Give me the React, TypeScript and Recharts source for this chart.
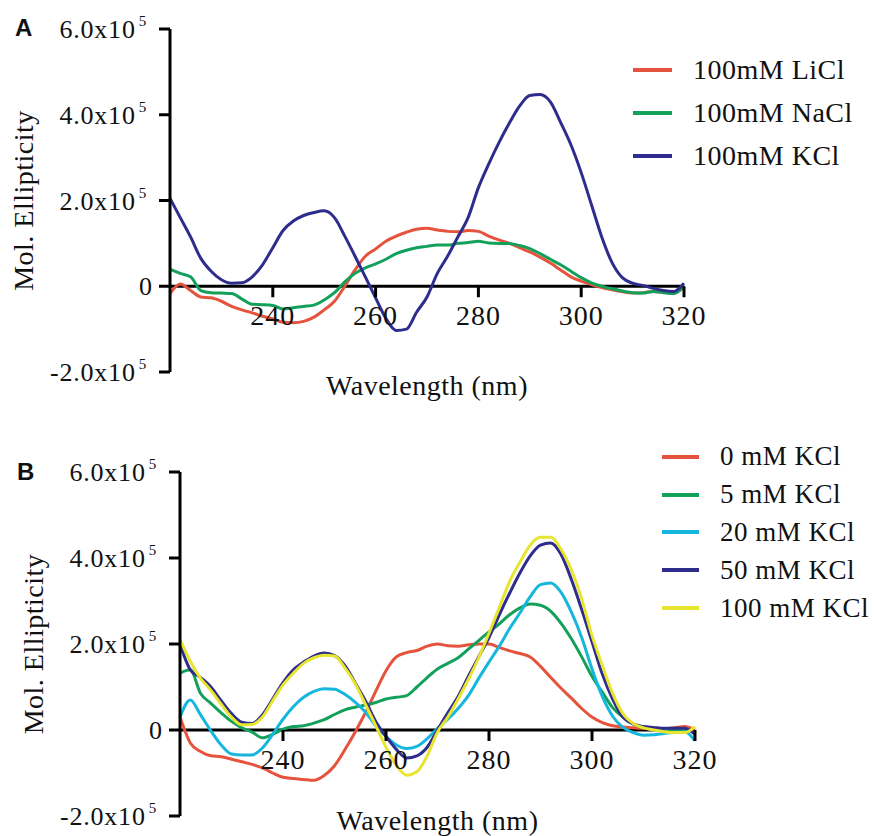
import React from "react";
import { LineChart, Line, XAxis, YAxis, ReferenceLine, Legend } from "recharts";

// wavelength grid (nm), shared by every trace
const wavelengths = [
  220, 222, 224, 226, 228, 230, 232, 234, 236, 238, 240, 242, 244, 246, 248, 250, 252,
  254, 256, 258, 260, 262, 264, 266, 268, 270, 272, 274, 276, 278, 280, 282, 284, 286,
  288, 290, 292, 294, 296, 298, 300, 302, 304, 306, 308, 310, 312, 314, 316, 318, 320,
];

// panel A: salt type (x10^5)
const liCl = [
  -0.17, 0.05, -0.1, -0.25, -0.27, -0.35, -0.47, -0.55, -0.62, -0.7, -0.76, -0.84, -0.85,
  -0.82, -0.72, -0.55, -0.35, 0.0, 0.38, 0.7, 0.87, 1.05, 1.17, 1.26, 1.33, 1.35, 1.31,
  1.28, 1.27, 1.3, 1.28, 1.17, 1.08, 1.0, 0.9, 0.8, 0.68, 0.54, 0.38, 0.22, 0.12, 0.04,
  -0.03, -0.08, -0.13, -0.16, -0.15, -0.12, -0.14, -0.16, -0.02,
];
const naCl = [
  0.4, 0.3, 0.22, -0.1, -0.15, -0.16, -0.17, -0.3, -0.42, -0.43, -0.45, -0.53, -0.5,
  -0.47, -0.44, -0.32, -0.15, 0.1, 0.3, 0.43, 0.52, 0.63, 0.76, 0.84, 0.9, 0.93, 0.96,
  0.96, 1.0, 1.02, 1.05, 1.01, 1.0, 1.0, 0.95, 0.88, 0.76, 0.63, 0.5, 0.35, 0.2, 0.08,
  0.0, -0.06, -0.11, -0.15, -0.16, -0.12, -0.15, -0.17, 0.0,
];
const kCl = [
  2.05, 1.6, 1.15, 0.65, 0.35, 0.15, 0.07, 0.08, 0.22, 0.5, 0.9, 1.3, 1.52, 1.65, 1.72,
  1.76, 1.6, 1.17, 0.7, 0.22, -0.27, -0.75, -1.03, -1.0, -0.6, -0.25, 0.3, 0.7, 1.15,
  1.6, 2.3, 2.85, 3.35, 3.8, 4.2, 4.45, 4.47, 4.3, 3.82, 3.3, 2.65, 1.9, 1.15, 0.55,
  0.2, 0.07, 0.02, -0.05, -0.1, -0.12, 0.07,
];

// panel B: KCl titration (x10^5)
const k0 = [
  0.3, -0.3, -0.5, -0.6, -0.62, -0.68, -0.74, -0.8, -0.88, -1.0, -1.1, -1.13, -1.15,
  -1.17, -1.06, -0.83, -0.46, -0.05, 0.4, 0.9, 1.38, 1.7, 1.8, 1.85, 1.95, 2.0, 1.96,
  1.95, 1.98, 2.0, 2.0, 1.92, 1.84, 1.78, 1.7, 1.48, 1.22, 0.97, 0.74, 0.5, 0.3, 0.17,
  0.1, 0.07, 0.05, 0.04, 0.03, 0.03, 0.05, 0.08, 0.0,
];
const k5 = [
  1.32, 1.4, 0.85, 0.62, 0.4, 0.2, 0.05, -0.05, -0.18, -0.1, 0.02, 0.08, 0.1, 0.16,
  0.24, 0.36, 0.47, 0.53, 0.58, 0.64, 0.72, 0.76, 0.8, 1.0, 1.22, 1.42, 1.55, 1.68,
  1.88, 2.08, 2.28, 2.47, 2.68, 2.84, 2.93, 2.9, 2.76, 2.48, 2.12, 1.7, 1.25, 0.88,
  0.52, 0.3, 0.14, 0.05, 0.01, 0.0, -0.01, 0.0, -0.04,
];
const k20 = [
  0.3, 0.7, 0.35, -0.02, -0.35, -0.56, -0.58, -0.58, -0.42, -0.1, 0.25, 0.54, 0.76,
  0.9, 0.96, 0.95, 0.83, 0.65, 0.42, 0.1, -0.15, -0.35, -0.43, -0.38, -0.2, 0.04, 0.25,
  0.5, 0.8, 1.2, 1.58, 1.95, 2.36, 2.72, 3.1, 3.38, 3.42, 3.2, 2.74, 2.15, 1.42, 0.78,
  0.32, 0.06, -0.06, -0.12, -0.11, -0.08, -0.06, -0.04, -0.25,
];
const k50 = [
  2.0, 1.4, 1.22, 1.0, 0.68, 0.38, 0.18, 0.15, 0.35, 0.72, 1.1, 1.4, 1.58, 1.72, 1.79,
  1.73, 1.5, 1.1, 0.68, 0.2, -0.15, -0.45, -0.65, -0.6, -0.4, 0.0, 0.4, 0.78, 1.25,
  1.7, 2.15, 2.68, 3.18, 3.65, 4.05, 4.3, 4.35, 4.08, 3.5, 2.8, 2.05, 1.3, 0.72, 0.3,
  0.14, 0.08, 0.06, 0.04, 0.04, 0.04, -0.1,
];
const k100 = [
  2.1, 1.6, 1.2, 0.92, 0.6, 0.3, 0.12, 0.13, 0.3, 0.68, 1.05, 1.32, 1.55, 1.68, 1.74,
  1.72, 1.45, 1.08, 0.6, 0.1, -0.4, -0.82, -1.05, -0.97, -0.6, -0.05, 0.3, 0.72, 1.18,
  1.68, 2.25, 2.85, 3.45, 3.9, 4.3, 4.48, 4.48, 4.2, 3.72, 3.05, 2.2, 1.5, 0.85, 0.38,
  0.15, 0.05, 0.0, -0.04, -0.06, -0.06, 0.08,
];

const xTicks = [240, 260, 280, 300, 320];
const yTicks = [-2, 0, 2, 4, 6];
const Y_MIN = -2;
const Y_MAX = 6;

const panelASeries = [
  { key: "li", name: "100mM LiCl", values: liCl, color: "#E5533D" },
  { key: "na", name: "100mM NaCl", values: naCl, color: "#12A05A" },
  { key: "k", name: "100mM KCl", values: kCl, color: "#2E2C8C" },
];
const panelBSeries = [
  { key: "k0", name: "0 mM KCl", values: k0, color: "#E5533D" },
  { key: "k5", name: "5 mM KCl", values: k5, color: "#12A05A" },
  { key: "k20", name: "20 mM KCl", values: k20, color: "#17B6DD" },
  { key: "k50", name: "50 mM KCl", values: k50, color: "#2E2C8C" },
  { key: "k100", name: "100 mM KCl", values: k100, color: "#E7E52F" },
];

const SERIF = '"Liberation Serif", "Times New Roman", serif';
const INK = "#111";

type Series = { key: string; name: string; values: number[]; color: string };

function toRows(series: Series[]) {
  return wavelengths.map((w, i) => {
    const row: Record<string, number> = { w };
    series.forEach((s) => (row[s.key] = s.values[i]));
    return row;
  });
}

function YTick({ x, y, payload }: any) {
  const v = payload.value as number;
  if (v === 0) {
    return (
      <text x={x + 5} y={y} dy={9} textAnchor="end" fontFamily={SERIF} fontSize={26} fill={INK}>
        0
      </text>
    );
  }
  return (
    <text x={x} y={y} dy={9} textAnchor="end" fontFamily={SERIF} fontSize={26} fill={INK} letterSpacing={0.8}>
      <tspan>{v.toFixed(1)}x10</tspan>
      <tspan dx={3} dy={-12} fontSize={15}>5</tspan>
    </text>
  );
}

function makeXTick(zeroY: number) {
  return ({ x, payload }: any) => (
    <g>
      <line x1={x} x2={x} y1={zeroY} y2={zeroY + 11} stroke="#000" strokeWidth={3} />
      <text x={x} y={zeroY + 39} textAnchor="middle" fontFamily={SERIF} fontSize={28} fill={INK} letterSpacing={1}>
        {payload.value}
      </text>
    </g>
  );
}

// legend rows follow the series order, not the library's alphabetical sort
function makeLegend(series: Series[], rowH: number, lineW: number, gap: number, fontSize: number) {
  return () => (
    <div>
      {series.map((s) => (
        <div key={s.key} style={{ display: "flex", alignItems: "center", height: rowH }}>
          <span style={{ display: "inline-block", width: lineW, height: 4, background: s.color }} />
          <span
            style={{
              marginLeft: gap,
              fontFamily: SERIF,
              fontSize,
              color: INK,
              whiteSpace: "nowrap",
              letterSpacing: 0.5,
            }}
          >
            {s.name}
          </span>
        </div>
      ))}
    </div>
  );
}

type PanelProps = {
  series: Series[];
  height: number;
  margin: { top: number; right: number; bottom: number; left: number };
  xTitleDy: number;
  legendPos: { left: number; top: number };
  legendRow: number;
  legendLine: number;
  legendGap: number;
  legendFont: number;
};

const WIDTH = 874;
const Y_AXIS_W = 150;
const X_AXIS_H = 20;

function Panel(p: PanelProps) {
  const plotH = p.height - p.margin.top - p.margin.bottom - X_AXIS_H;
  const zeroY = p.margin.top + (plotH * Y_MAX) / (Y_MAX - Y_MIN);
  const data = toRows(p.series);

  return (
    <LineChart width={WIDTH} height={p.height} data={data} margin={p.margin}>
      <XAxis
        dataKey="w"
        type="number"
        domain={[220, 320]}
        ticks={xTicks}
        axisLine={false}
        tickLine={false}
        height={X_AXIS_H}
        tick={makeXTick(zeroY)}
        label={({ viewBox }: any) => (
          <text
            x={viewBox.x + viewBox.width / 2}
            y={viewBox.y + p.xTitleDy}
            textAnchor="middle"
            fontFamily={SERIF}
            fontSize={28}
            fill={INK}
            letterSpacing={0.5}
          >
            Wavelength (nm)
          </text>
        )}
      />
      <YAxis
        type="number"
        domain={[Y_MIN, Y_MAX]}
        ticks={yTicks}
        width={Y_AXIS_W}
        axisLine={{ stroke: "#000", strokeWidth: 3 }}
        tickLine={{ stroke: "#000", strokeWidth: 3 }}
        tickSize={11}
        tickMargin={12}
        tick={<YTick />}
        label={({ viewBox }: any) => {
          const cx = viewBox.x + 3;
          const cy = viewBox.y + viewBox.height / 2;
          return (
            <text
              x={cx}
              y={cy}
              transform={`rotate(-90 ${cx} ${cy})`}
              textAnchor="middle"
              dominantBaseline="central"
              fontFamily={SERIF}
              fontSize={28}
              fill={INK}
              letterSpacing={0.5}
            >
              Mol. Ellipticity
            </text>
          );
        }}
      />
      <ReferenceLine y={0} stroke="#000" strokeWidth={3} />
      {p.series.map((s) => (
        <Line
          key={s.key}
          dataKey={s.key}
          name={s.name}
          stroke={s.color}
          strokeWidth={3}
          dot={false}
          type="monotone"
          isAnimationActive={false}
        />
      ))}
      <Legend
        layout="vertical"
        align="center"
        verticalAlign="middle"
        wrapperStyle={{ left: p.legendPos.left, top: p.legendPos.top, width: 240 }}
        content={makeLegend(p.series, p.legendRow, p.legendLine, p.legendGap, p.legendFont)}
      />
    </LineChart>
  );
}

const tagStyle: React.CSSProperties = {
  position: "absolute",
  fontFamily: '"Liberation Sans", Arial, sans-serif',
  fontWeight: 700,
  fontSize: 24,
  lineHeight: 1,
  color: "#111",
};

export default function App() {
  return (
    <div style={{ position: "absolute", left: 0, top: 0, width: 874, height: 836, background: "#fff" }}>
      <div style={{ position: "absolute", left: 0, top: 0 }}>
        <Panel
          series={panelASeries}
          height={420}
          margin={{ top: 29, right: 190, bottom: 28, left: 20 }}
          xTitleDy={23}
          legendPos={{ left: 633, top: 48 }}
          legendRow={43}
          legendLine={39}
          legendGap={21}
          legendFont={28}
        />
      </div>
      <div style={{ position: "absolute", left: 0, top: 440 }}>
        <Panel
          series={panelBSeries}
          height={396}
          margin={{ top: 32, right: 179, bottom: 0, left: 30 }}
          xTitleDy={14}
          legendPos={{ left: 662, top: -2 }}
          legendRow={37.8}
          legendLine={37}
          legendGap={21}
          legendFont={27}
        />
      </div>
      <div style={{ ...tagStyle, left: 15, top: 16 }}>A</div>
      <div style={{ ...tagStyle, left: 17, top: 460 }}>B</div>
    </div>
  );
}
